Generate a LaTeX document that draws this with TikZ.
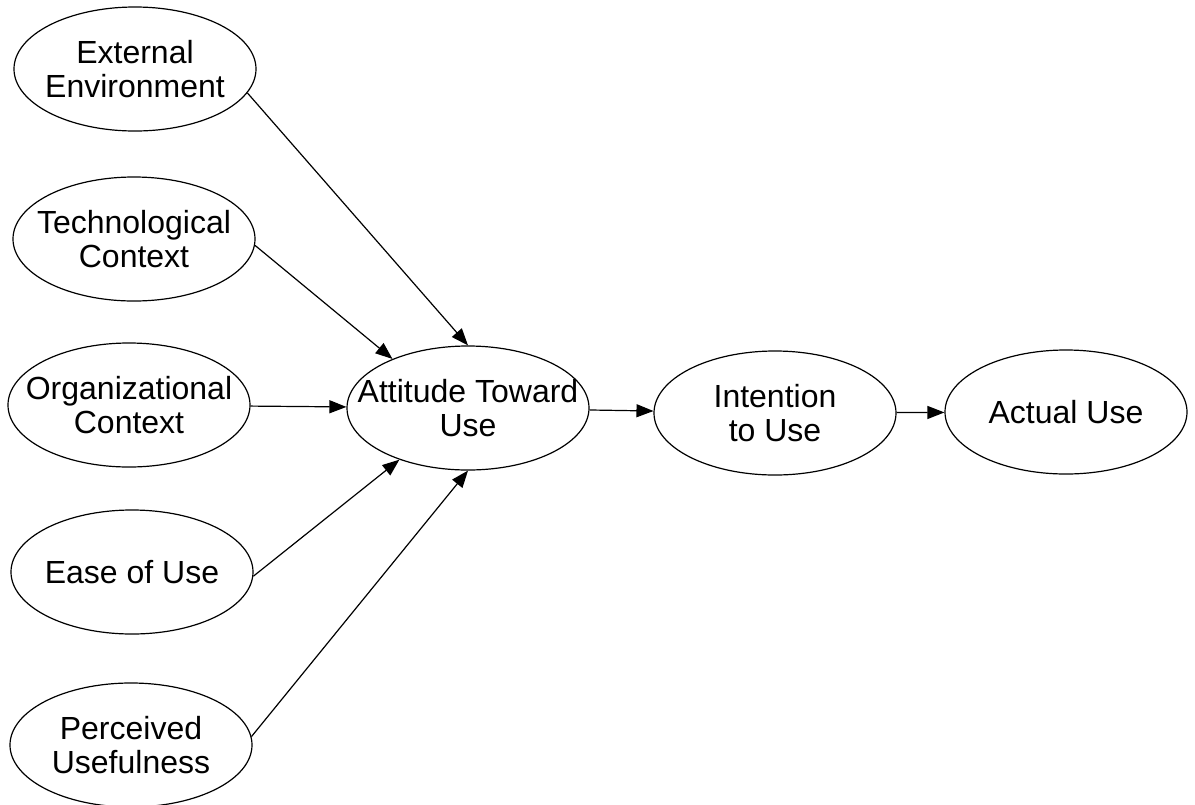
\documentclass[tikz,border=0pt]{standalone}
\usepackage{fontspec}
\setmainfont{Liberation Sans}
\usepackage{tikz}
\usetikzlibrary{arrows.meta,shapes.geometric}

\begin{document}
\begin{tikzpicture}[x=0.5pt,y=-0.5pt,font=\fontsize{16}{17}\selectfont,>={Triangle[length=8.5pt,width=6.5pt]},line width=0.6pt,
  oval/.style={draw,ellipse,minimum width=121pt,minimum height=62pt,inner sep=0pt},
  every label/.style={align=center,inner sep=0pt}]
\useasboundingbox (0,0) rectangle (1195,804);
% factors on the left
\node[oval,label=center:{External\\Environment}] (ext) at (135,69) {};
\node[oval,label=center:{Technological\\Context}] (tech) at (134,239) {};
\node[oval,label=center:{Organizational\\Context}] (org) at (129,405) {};
\node[oval,label=center:{Ease of Use}] (ease) at (132,572) {};
\node[oval,label=center:{Perceived\\Usefulness}] (perc) at (131,745) {};
% main chain
\node[oval,label=center:{Attitude Toward\\Use}] (att) at (468,408) {};
\node[oval,label=center:{Intention\\to Use}] (int) at (775,413) {};
\node[oval,label=center:{Actual Use}] (act) at (1066,412) {};
\draw[->] (ext.-12) -- (att.north);
\draw[->] (tech.-3) -- (att.147);
\draw[->] (org) -- (att);
\draw[->] (ease.-2) -- (att.217);
\draw[->] (perc.4) -- (att.south);
\draw[->] (att) -- (int);
\draw[->] (int) -- (act);
\end{tikzpicture}
\end{document}
